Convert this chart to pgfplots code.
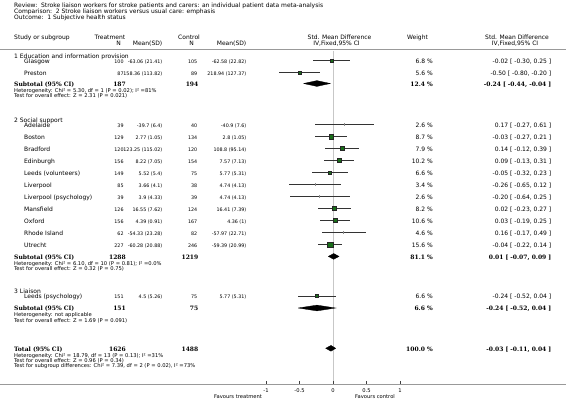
\documentclass[border=0pt]{standalone}
\usepackage{fontspec}
\setmainfont{DejaVu Sans}
\newfontfamily\serifbold{DejaVu Serif}
\usepackage{pgfplots}
\usepackage{pgfplotstable}
\pgfplotsset{compat=1.18}
\definecolor{sqgreen}{RGB}{25,110,25}
\newcommand\fA{\fontsize{6}{7}\selectfont}
\newcommand\fN{\fontsize{4.8}{6}\selectfont}
\newcommand\fH{\fontsize{5.2}{6}\selectfont}
\newcommand\fB{\serifbold\bfseries\fontsize{6}{7}\selectfont}
\tikzset{L/.style={anchor=mid west, inner sep=0pt},
         R/.style={anchor=mid east, inner sep=0pt},
         C/.style={anchor=mid, inner sep=0pt}}
\newcommand\srow[8]{%
 \node[L,font=\fA] at (24,#1) {#2};
 \node[R,font=\fN] at (123.8,#1) {#3};
 \node[R,font=\fN] at (162.5,#1) {#4};
 \node[R,font=\fN] at (197.5,#1) {#5};
 \node[R,font=\fN] at (246.5,#1) {#6};
 \node[R,font=\fA] at (433,#1) {#7};
 \node[R,font=\fA] at (551.5,#1) {#8};}
\newcommand\subrow[6]{%
 \node[L,font=\fB] at (14,#1) {#2};
 \node[R,font=\fB] at (126,#1) {#3};
 \node[R,font=\fB] at (198.5,#1) {#4};
 \node[R,font=\fB] at (433,#1) {#5};
 \node[R,font=\fB] at (551.5,#1) {#6};}

% studies drawn with a green square: row(px)  SMD  lower  upper  marksize
\pgfplotstableread{
row smd lo hi ms
60.8 -0.02 -0.30 0.25 1.8
72.3 -0.50 -0.80 -0.20 1.6
136.6 -0.03 -0.27 0.21 2.1
148.6 0.14 -0.12 0.39 2.0
160.5 0.09 -0.13 0.31 2.1
172.5 -0.05 -0.32 0.23 1.8
208.5 0.02 -0.23 0.27 2.0
220.4 0.03 -0.19 0.25 2.1
244.4 -0.04 -0.22 0.14 2.7
296.0 -0.24 -0.52 0.04 1.6
}\bigstudies
% studies with very small weight (tick only)
\pgfplotstableread{
row smd lo hi
124.6 0.17 -0.27 0.61
184.5 -0.26 -0.65 0.12
196.5 -0.20 -0.64 0.25
232.4 0.16 -0.17 0.49
}\smallstudies

\begin{document}
\begin{tikzpicture}
\useasboundingbox (0pt,0pt) rectangle (566pt,-408pt);
\begin{axis}[at={(0pt,0pt)}, anchor=north west,
  width=566pt, height=408pt, scale only axis,
  xmin=-4.97015, xmax=3.47761, ymin=0, ymax=408, y dir=reverse,
  hide axis, clip=false]
% rules
\addplot[black!40, line width=1.6pt] coordinates {(-4.97015,49.5) (3.47761,49.5)};
\addplot[black!40, line width=1.6pt] coordinates {(-4.97015,384.5) (3.47761,384.5)};
\addplot[black!22, line width=0.7pt] coordinates {(0,50.5) (0,383.6)};
% ticks
\addplot[only marks, mark=|, mark size=1.4pt, black!75, mark options={line width=0.5pt}] coordinates {(-1,382.3) (-0.5,382.3) (0,382.3) (0.5,382.3) (1,382.3)};
% confidence intervals
\addplot[draw=none, mark=none, error bars/.cd, x dir=both, x explicit, error mark=none,
  error bar style={draw=black!80, line width=0.7pt}]
  table[x=smd, y=row, x error plus expr=\thisrow{hi}-\thisrow{smd}, x error minus expr=\thisrow{smd}-\thisrow{lo}] {\bigstudies};
\addplot[draw=none, mark=none, error bars/.cd, x dir=both, x explicit, error mark=none,
  error bar style={draw=black!80, line width=0.7pt}]
  table[x=smd, y=row, x error plus expr=\thisrow{hi}-\thisrow{smd}, x error minus expr=\thisrow{smd}-\thisrow{lo}] {\smallstudies};
% point estimates
\addplot[only marks, mark=|, mark size=1.3pt, black!45, mark options={line width=0.5pt}] table[x=smd, y=row] {\smallstudies};
\addplot[scatter, only marks, mark=square*,
  scatter/use mapped color={draw=black!85, fill=sqgreen},
  visualization depends on={\thisrow{ms} \as \msz},
  scatter/@pre marker code/.append style={/tikz/mark size=\msz, /tikz/line width=0.4pt}]
  table[x=smd, y=row] {\bigstudies};
% pooled diamonds
\addplot[fill=black, draw=black, line width=0.3pt] coordinates {(-0.44,83.5) (-0.24,80.6) (-0.04,83.5) (-0.24,86.4) (-0.44,83.5)};
\addplot[fill=black, draw=black, line width=0.3pt] coordinates {(-0.07,256.4) (0.01,253.5) (0.09,256.4) (0.01,259.3) (-0.07,256.4)};
\addplot[fill=black, draw=black, line width=0.3pt] coordinates {(-0.52,308.0) (-0.24,305.1) (0.04,308.0) (-0.24,310.9) (-0.52,308.0)};
\addplot[fill=black, draw=black, line width=0.3pt] coordinates {(-0.11,348.3) (-0.03,345.4) (0.04,348.3) (-0.03,351.2) (-0.11,348.3)};
% tick labels
\node[C,font=\fH] at (axis cs:-1,389.6) {-1};
\node[C,font=\fH] at (axis cs:-0.5,389.6) {-0.5};
\node[C,font=\fH] at (axis cs:0,389.6) {0};
\node[C,font=\fH] at (axis cs:0.5,389.6) {0.5};
\node[C,font=\fH] at (axis cs:1,389.6) {1};
\end{axis}
\begin{scope}[x=1pt,y=-1pt]
\node[L,font=\fA] at (14,5) {Review:\ \ Stroke liaison workers for stroke patients and carers: an individual patient data meta-analysis};
\node[L,font=\fA] at (14,11) {Comparison:\ \ 2 Stroke liaison workers versus usual care: emphasis};
\node[L,font=\fA] at (14,17) {Outcome:\ \ 1 Subjective health status};
% headers
\node[L,font=\fA] at (14,37) {Study or subgroup};
\node[C,font=\fA] at (110,37) {Treatment};
\node[C,font=\fA] at (118.5,43) {N};
\node[R,font=\fA] at (162.5,43) {Mean(SD)};
\node[L,font=\fA] at (178,37) {Control};
\node[C,font=\fA] at (191.5,43) {N};
\node[R,font=\fA] at (246.5,43) {Mean(SD)};
\node[C,font=\fA] at (339.5,37) {Std. Mean Difference};
\node[C,font=\fA] at (336.5,43) {IV,Fixed,95\% CI};
\node[C,font=\fA] at (417.5,37) {Weight};
\node[C,font=\fA] at (517,37) {Std. Mean Difference};
\node[C,font=\fA] at (515,43) {IV,Fixed,95\% CI};
% group 1
\node[L,font=\fA] at (14,55.5) {1 Education and information provision};
\srow{60.8}{Glasgow}{100}{-63.06 (21.41)}{105}{-62.58 (22.82)}{6.8 \%}{-0.02 [ -0.30, 0.25 ]}
\srow{72.3}{Preston}{87}{158.36 (113.82)}{89}{218.94 (127.37)}{5.6 \%}{-0.50 [ -0.80, -0.20 ]}
\subrow{83.5}{Subtotal (95\% CI)}{187}{194}{12.4 \%}{-0.24 [ -0.44, -0.04 ]}
\node[L,font=\fH] at (14,89.5) {Heterogeneity: Chi² = 5.30, df = 1 (P = 0.02); I² =81\%};
\node[L,font=\fH] at (14,95) {Test for overall effect: Z = 2.31 (P = 0.021)};
% group 2
\node[L,font=\fA] at (14,119.5) {2 Social support};
\srow{124.6}{Adelaide}{39}{-39.7 (6.4)}{40}{-40.9 (7.6)}{2.6 \%}{0.17 [ -0.27, 0.61 ]}
\srow{136.6}{Boston}{129}{2.77 (1.05)}{134}{2.8 (1.05)}{8.7 \%}{-0.03 [ -0.27, 0.21 ]}
\srow{148.6}{Bradford}{120}{123.25 (115.02)}{120}{108.8 (95.14)}{7.9 \%}{0.14 [ -0.12, 0.39 ]}
\srow{160.5}{Edinburgh}{156}{8.22 (7.05)}{154}{7.57 (7.13)}{10.2 \%}{0.09 [ -0.13, 0.31 ]}
\srow{172.5}{Leeds (volunteers)}{149}{5.52 (5.4)}{75}{5.77 (5.31)}{6.6 \%}{-0.05 [ -0.32, 0.23 ]}
\srow{184.5}{Liverpool}{85}{3.66 (4.1)}{38}{4.74 (4.13)}{3.4 \%}{-0.26 [ -0.65, 0.12 ]}
\srow{196.5}{Liverpool (psychology)}{39}{3.9 (4.33)}{39}{4.74 (4.13)}{2.6 \%}{-0.20 [ -0.64, 0.25 ]}
\srow{208.5}{Mansfield}{126}{16.55 (7.62)}{124}{16.41 (7.39)}{8.2 \%}{0.02 [ -0.23, 0.27 ]}
\srow{220.4}{Oxford}{156}{4.39 (0.91)}{167}{4.36 (1)}{10.6 \%}{0.03 [ -0.19, 0.25 ]}
\srow{232.4}{Rhode Island}{62}{-54.33 (23.28)}{82}{-57.97 (22.71)}{4.6 \%}{0.16 [ -0.17, 0.49 ]}
\srow{244.4}{Utrecht}{227}{-60.28 (20.88)}{246}{-59.39 (20.99)}{15.6 \%}{-0.04 [ -0.22, 0.14 ]}
\subrow{256.4}{Subtotal (95\% CI)}{1288}{1219}{81.1 \%}{0.01 [ -0.07, 0.09 ]}
\node[L,font=\fH] at (14,262.3) {Heterogeneity: Chi² = 6.10, df = 10 (P = 0.81); I² =0.0\%};
\node[L,font=\fH] at (14,267.8) {Test for overall effect: Z = 0.32 (P = 0.75)};
% group 3
\node[L,font=\fA] at (14,290.7) {3 Liaison};
\srow{296.0}{Leeds (psychology)}{151}{4.5 (5.26)}{75}{5.77 (5.31)}{6.6 \%}{-0.24 [ -0.52, 0.04 ]}
\subrow{308.0}{Subtotal (95\% CI)}{151}{75}{6.6 \%}{-0.24 [ -0.52, 0.04 ]}
\node[L,font=\fH] at (14,313.8) {Heterogeneity: not applicable};
\node[L,font=\fH] at (14,319.3) {Test for overall effect: Z = 1.69 (P = 0.091)};
% total
\subrow{348.3}{Total (95\% CI)}{1626}{1488}{100.0 \%}{-0.03 [ -0.11, 0.04 ]}
\node[L,font=\fH] at (14,354.3) {Heterogeneity: Chi² = 18.79, df = 13 (P = 0.13); I² =31\%};
\node[L,font=\fH] at (14,359.5) {Test for overall effect: Z = 0.96 (P = 0.34)};
\node[L,font=\fH] at (14,364.7) {Test for subgroup differences: Chi² = 7.39, df = 2 (P = 0.02), I² =73\%};
% favours
\node[C,font=\fH] at (238,396) {Favours treatment};
\node[C,font=\fH] at (375,396) {Favours control};
\end{scope}
\end{tikzpicture}
\end{document}
